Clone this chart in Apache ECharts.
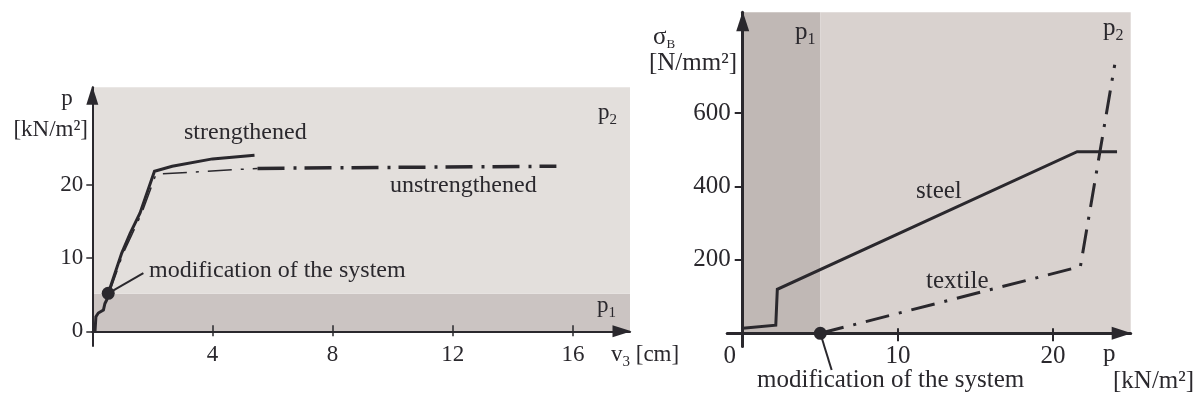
<!DOCTYPE html>
<html><head><meta charset="utf-8">
<script src="https://cdn.jsdelivr.net/npm/echarts@6/dist/echarts.min.js"></script>
<style>html,body{margin:0;padding:0;background:#fff}#c{width:1200px;height:403px}</style>
</head><body><div id="c"></div>
<script>
// ---------- LEFT CHART: load p [kN/m²] vs. deflection v3 [cm] ----------
const leftXTicks = [4, 8, 12, 16];
const leftYTicks = [0, 10, 20];
const leftXMax = 17.9;
const leftYMin = -2;
const leftYMax = 33.4;
const leftP1Level = 5.15;
const strengthened = [[0.09,0],[0.12,2.0],[0.2,2.5],[0.37,2.9],[0.42,3.8],[0.48,4.3],[0.53,5.2],[0.98,10.7],[1.26,13.4],[1.59,16.2],[2.07,21.9],[2.66,22.6],[4.0,23.6],[5.4,24.1]];
const unstrengthenedThin = [[0.56,5.2],[1.02,10.6],[1.64,16.1],[2.12,21.5],[5.5,22.3]];
const unstrengthenedThick = [[5.5,22.3],[15.45,22.6]];
const leftModification = [0.53, 5.2];
const leftLeader = [[0.53,5.2],[1.7,7.95]];

// ---------- RIGHT CHART: stress sigma_B [N/mm²] vs. load p [kN/m²] ----------
const rightXTicks = [0, 10, 20];
const rightXTickMarks = [10, 20];
const rightYTicks = [200, 400, 600];
const rightXMin = -1;
const rightXMax = 25;
const rightYMin = -36;
const rightYMax = 875;
const rightP1Level = 5;
const steel = [[0,14],[2.13,22],[2.23,120],[21.55,495],[24.12,495]];
const textile = [[5,0],[21.76,182],[23.97,732]];
const rightModification = [5, 0];
const rightLeader = [[5,0],[5.73,-100]];

const INK = '#2a282d';
const FONT = 'Liberation Serif';

const G0 = { left: 92.3, top: 87.3, width: 537.7, height: 258.6 };
const G1 = { left: 727.2, top: 12.3, width: 403.5, height: 334.2 };
// pixel distance from grid top to the zero line (for the upper half of crossing tick marks)
const zeroOffset0 = G0.height * leftYMax / (leftYMax - leftYMin);
const zeroOffset1 = G1.height * rightYMax / (rightYMax - rightYMin);

function lineSeries(x, y, data, width, type, extra) {
  return Object.assign({
    type: 'line', xAxisIndex: x, yAxisIndex: y, data: data,
    symbol: 'none', showSymbol: false, silent: true, z: 4,
    lineStyle: { color: INK, width: width, type: type || 'solid', cap: 'butt', join: 'miter' }
  }, extra || {});
}
function txt(x, y, text, size, align, rich) {
  return {
    type: 'text', x: x, y: y, z: 100, silent: true,
    style: {
      text: text, fill: INK, fontFamily: FONT, fontSize: size,
      align: align || 'left', verticalAlign: 'middle',
      rich: rich || {}
    }
  };
}
const subL = { s: { fontSize: 15, fontFamily: FONT, fill: INK, verticalAlign: 'bottom', lineHeight: 29 } };
const subR = { s: { fontSize: 16, fontFamily: FONT, fill: INK, verticalAlign: 'bottom', lineHeight: 31 } };
const subB = { s: { fontSize: 13, fontFamily: FONT, fill: INK, verticalAlign: 'bottom', lineHeight: 29 } };

const axisLineBase = (w) => ({ show: true, onZero: true, lineStyle: { color: INK, width: w } });

const option = {
  animation: false,
  backgroundColor: '#ffffff',
  grid: [G0, G1],
  xAxis: [
    { gridIndex: 0, type: 'value', min: 0, max: leftXMax, position: 'bottom', z: 10,
      axisLine: Object.assign(axisLineBase(2), { symbol: ['none','triangle'], symbolSize: [12,19], symbolOffset: [0,-8] }),
      axisTick: { show: true, customValues: leftXTicks, length: 5, lineStyle: { color: INK, width: 1.5 } },
      axisLabel: { customValues: leftXTicks, margin: -2, color: INK, fontFamily: FONT, fontSize: 23 },
      splitLine: { show: false } },
    { gridIndex: 0, type: 'value', min: 0, max: leftXMax, position: 'top', offset: -zeroOffset0, z: 10,
      axisLine: { show: true, onZero: false, lineStyle: { color: INK, opacity: 0 } },
      axisTick: { show: true, inside: false, customValues: leftXTicks, length: 6, lineStyle: { color: INK, width: 1.5, opacity: 1 } },
      axisLabel: { show: false }, splitLine: { show: false } },
    { gridIndex: 1, type: 'value', min: rightXMin, max: rightXMax, position: 'bottom', z: 10,
      axisLine: Object.assign(axisLineBase(3), { symbol: ['none','triangle'], symbolSize: [13,20], symbolOffset: [0,-9] }),
      axisTick: { show: true, customValues: rightXTickMarks, length: 8, lineStyle: { color: INK, width: 2 } },
      axisLabel: { customValues: rightXTicks, margin: -3, color: INK, fontFamily: FONT, fontSize: 25,
        formatter: v => v === 0 ? '{z|0}' : String(v),
        rich: { z: { padding: [0, 26, 0, 0], fontFamily: FONT, fontSize: 25, color: INK } } },
      splitLine: { show: false } },
    { gridIndex: 1, type: 'value', min: rightXMin, max: rightXMax, position: 'top', offset: -zeroOffset1, z: 10,
      axisLine: { show: true, onZero: false, lineStyle: { color: INK, opacity: 0 } },
      axisTick: { show: true, inside: false, customValues: rightXTickMarks, length: 5, lineStyle: { color: INK, width: 2 } },
      axisLabel: { show: false }, splitLine: { show: false } }
  ],
  yAxis: [
    { gridIndex: 0, type: 'value', min: leftYMin, max: leftYMax, z: 10,
      axisLine: Object.assign(axisLineBase(2), { symbol: ['none','triangle'], symbolSize: [12,19], symbolOffset: [0,-8] }),
      axisTick: { show: true, customValues: leftYTicks, length: 6, lineStyle: { color: INK, width: 1.5 } },
      axisLabel: { customValues: leftYTicks, margin: 9, color: INK, fontFamily: FONT, fontSize: 23 },
      splitLine: { show: false } },
    { gridIndex: 1, type: 'value', min: rightYMin, max: rightYMax, z: 10,
      axisLine: Object.assign(axisLineBase(3), { symbol: ['none','triangle'], symbolSize: [13,20], symbolOffset: [0,-9] }),
      axisTick: { show: true, customValues: rightYTicks, length: 8, lineStyle: { color: INK, width: 2 } },
      axisLabel: { customValues: rightYTicks, margin: -3.5, color: INK, fontFamily: FONT, fontSize: 25, padding: [14,0,0,0] },
      splitLine: { show: false } }
  ],
  series: [
    // background zones (left)
    { type: 'line', xAxisIndex: 0, yAxisIndex: 0, data: [], silent: true, z: 1,
      markArea: { silent: true, data: [
        [{ coord: [0, 0], itemStyle: { color: '#cbc4c2' } }, { coord: [leftXMax, leftP1Level] }],
        [{ coord: [0, leftP1Level], itemStyle: { color: '#e3dfdc' } }, { coord: [leftXMax, leftYMax] }]
      ] } },
    // background zones (right)
    { type: 'line', xAxisIndex: 2, yAxisIndex: 1, data: [], silent: true, z: 1,
      markArea: { silent: true, data: [
        [{ coord: [0, 0], itemStyle: { color: '#c0b8b5' } }, { coord: [rightP1Level, rightYMax] }],
        [{ coord: [rightP1Level, 0], itemStyle: { color: '#d9d2cf' } }, { coord: [rightXMax, rightYMax] }]
      ] } },
    lineSeries(0, 0, unstrengthenedThin, 1.5, [24, 9, 3, 9]),
    lineSeries(0, 0, unstrengthenedThick, 3.5, [27, 9, 3, 8]),
    lineSeries(0, 0, strengthened, 3),
    lineSeries(0, 0, leftLeader, 2, 'solid', { clip: false }),
    { type: 'scatter', xAxisIndex: 0, yAxisIndex: 0, data: [leftModification], symbolSize: 13, silent: true, z: 12, itemStyle: { color: INK, opacity: 1 } },
    lineSeries(2, 1, steel, 3),
    lineSeries(2, 1, textile, 3, [24, 10, 3, 10]),
    lineSeries(2, 1, rightLeader, 2, 'solid', { clip: false }),
    { type: 'scatter', xAxisIndex: 2, yAxisIndex: 1, data: [rightModification], symbolSize: 13, silent: true, z: 12, clip: false, itemStyle: { color: INK, opacity: 1 } }
  ],
  graphic: [
    // left chart texts
    txt(67, 99, 'p', 23, 'center'),
    txt(88, 130, '[kN/m²]', 23, 'right'),
    txt(611, 355, 'v{s|3} [cm]', 23, 'left', subL),
    txt(598, 113, 'p{s|2}', 23, 'left', subL),
    txt(597, 306, 'p{s|1}', 23, 'left', subL),
    txt(184, 133, 'strengthened', 24, 'left'),
    txt(390, 186, 'unstrengthened', 24, 'left'),
    txt(149, 271, 'modification of the system', 24, 'left'),
    // right chart texts
    txt(653, 37, 'σ{s|B}', 25, 'left', subB),
    txt(737, 63, '[N/mm²]', 25, 'right'),
    txt(795, 32, 'p{s|1}', 25, 'left', subR),
    txt(1103, 28, 'p{s|2}', 25, 'left', subR),
    txt(916, 191, 'steel', 25, 'left'),
    txt(926, 281, 'textile', 25, 'left'),
    txt(757, 380, 'modification of the system', 25, 'left'),
    txt(1103, 354, 'p', 25, 'left'),
    txt(1113, 381, '[kN/m²]', 25, 'left')
  ]
};
const chart = echarts.init(document.getElementById('c'), null, { renderer: 'canvas' });
chart.setOption(option);
</script>
</body></html>
